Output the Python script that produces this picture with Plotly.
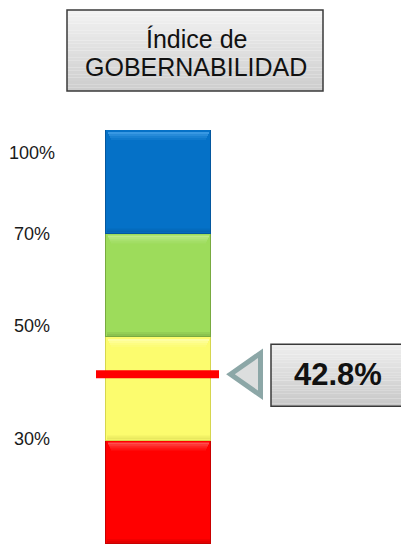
import numpy as np
import plotly.graph_objects as go

# Governability index bands (upper limit of each band, in %)
band_limits = [30, 50, 70, 100]
band_colors = ["#FF0000", "#FCFC6E", "#9DDC5B", "#0571C7"]
band_edges = ["#C80000", "#D6D64E", "#78AA40", "#04579E"]
band_highlights = ["#FF6A6A", "#FFFFB4", "#C4EE98", "#4AA6EC"]
band_shadows = ["#D00000", "#DCDC55", "#7FB248", "#045CA6"]

tick_labels = ["30%", "50%", "70%", "100%"]
index_value = 42.8
title_lines = ["Índice de", "GOBERNABILIDAD"]

W, H = 401, 544
FONT = "Arial, Liberation Sans, sans-serif"

# Each band is drawn with the same height; values map piecewise onto the bands
breaks = [0] + band_limits
def to_band(v):
    return float(np.interp(v, breaks, np.arange(len(breaks))))

bar_px = 105.0
bar_center_px = 158.5

fig = go.Figure()
for i, lim in enumerate(band_limits):
    fig.add_trace(go.Bar(
        x=[0], y=[to_band(lim) - to_band(breaks[i])], width=1,
        marker=dict(color=band_colors[i], line=dict(color=band_edges[i], width=1.5)),
        name=f"≤{lim}%", hoverinfo="skip", showlegend=False,
    ))

shapes = []

# bevel: soft light edge at the top and darker edge at the bottom of each band
for i, lim in enumerate(band_limits):
    for k, op in enumerate([0.75, 0.5, 0.3, 0.15]):
        shapes.append(dict(
            type="rect", xref="x", yref="y", xsizemode="pixel", ysizemode="pixel",
            xanchor=0, yanchor=to_band(lim),
            x0=-bar_px / 2 + 2 + k, x1=bar_px / 2 - 2 - k, y0=-2 - 2 * (k + 1), y1=-2 - 2 * k,
            fillcolor=band_highlights[i], line=dict(width=0), layer="above", opacity=op,
        ))
    for k, op in enumerate([0.6, 0.3]):
        shapes.append(dict(
            type="rect", xref="x", yref="y", xsizemode="pixel", ysizemode="pixel",
            xanchor=0, yanchor=to_band(breaks[i]),
            x0=-bar_px / 2 + 1, x1=bar_px / 2 - 1, y0=1 + 2 * k, y1=1 + 2 * (k + 1),
            fillcolor=band_shadows[i], line=dict(width=0), layer="above", opacity=op,
        ))


def gradient_rect(x0, x1, y_top, y_bot, c_top, c_bot, n=24, border="#3A3A3A", bw=1.5, **refs):
    a = np.array([int(c_top[k:k + 2], 16) for k in (1, 3, 5)], float)
    b = np.array([int(c_bot[k:k + 2], 16) for k in (1, 3, 5)], float)
    for k in range(n):
        t = (k + 0.5) / n
        c = a + (b - a) * t
        ya = y_top + (y_bot - y_top) * k / n
        yb = y_top + (y_bot - y_top) * (k + 1) / n
        shapes.append(dict(type="rect", x0=x0, x1=x1, y0=ya, y1=yb,
                           fillcolor="rgb(%d,%d,%d)" % tuple(c), line=dict(width=0),
                           layer="above", **refs))
    shapes.append(dict(type="rect", x0=x0, x1=x1, y0=y_top, y1=y_bot,
                       fillcolor="rgba(0,0,0,0)", line=dict(color=border, width=bw),
                       layer="above", **refs))


# title box
gradient_rect(67 / W, 323 / W, 1 - 10 / H, 1 - 91 / H, "#F3F3F3", "#CDCDCD",
              xref="paper", yref="paper")

yv = to_band(index_value)

# marker line at the index value
shapes.append(dict(type="line", xref="x", yref="y", xsizemode="pixel", xanchor=0,
                   x0=-62.5, x1=60.5, y0=yv, y1=yv,
                   line=dict(color="#FF0000", width=8), layer="above"))

# pointer triangle
shapes.append(dict(type="path", xref="x", yref="y", xsizemode="pixel", ysizemode="pixel",
                   xanchor=0, yanchor=yv,
                   path="M 72 0 L 102 21 L 102 -21 Z",
                   fillcolor="#DCDEDE", line=dict(color="#8CA7A7", width=5), layer="above"))

# value box
gradient_rect(112.5, 246, 30, -32, "#EFEFEF", "#C8C8C8",
              xref="x", yref="y", xsizemode="pixel", ysizemode="pixel",
              xanchor=0, yanchor=yv)

annotations = []
annotations.append(dict(x=0, y=yv, xref="x", yref="y", xshift=179.5, yshift=0,
                        text="<b>%.1f%%</b>" % index_value, showarrow=False,
                        xanchor="center", yanchor="middle",
                        font=dict(family=FONT, size=31, color="#111111")))

for line, ypx in zip(title_lines, [39, 67]):
    annotations.append(dict(x=196 / W, y=1 - ypx / H, xref="paper", yref="paper",
                            text=line, showarrow=False, xanchor="center", yanchor="middle",
                            font=dict(family=FONT, size=25, color="#111111")))

label_shift = {"30%": 2, "50%": 11, "70%": 0, "100%": -23}
for lim, lab in zip(band_limits, tick_labels):
    annotations.append(dict(x=32 / W, y=to_band(lim), xref="paper", yref="y",
                            yshift=label_shift[lab], text=lab, showarrow=False,
                            xanchor="center", yanchor="middle",
                            font=dict(family=FONT, size=18, color="#1A1A1A")))

fig.update_layout(
    width=W, height=H, margin=dict(l=0, r=0, t=0, b=0),
    paper_bgcolor="white", plot_bgcolor="white",
    barmode="stack", bargap=0,
    xaxis=dict(range=[-bar_center_px / bar_px, (W - bar_center_px) / bar_px],
               visible=False, fixedrange=True),
    yaxis=dict(range=[0, len(band_limits)], domain=[0, (H - 130) / H],
               visible=False, fixedrange=True),
    shapes=shapes, annotations=annotations,
)

fig.write_html("out.html")
